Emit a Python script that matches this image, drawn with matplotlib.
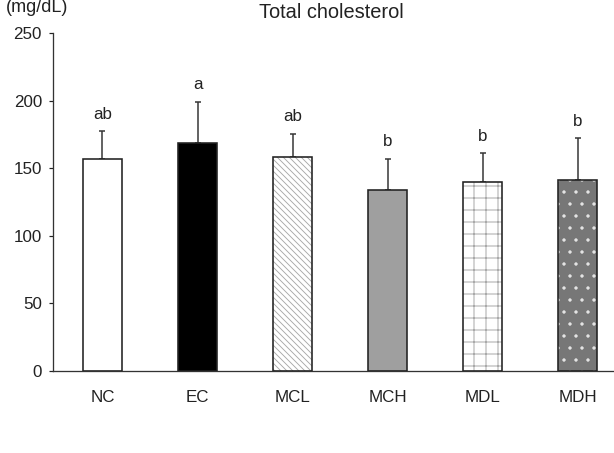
import numpy as np
import matplotlib
matplotlib.use('Agg')
import matplotlib.pyplot as plt

# data
groups = ['NC', 'EC', 'MCL', 'MCH', 'MDL', 'MDH']
means = [156.5, 168.5, 158, 134, 140, 141]
sd = [21, 30.5, 17.5, 23, 21, 31]
letters = ['ab', 'a', 'ab', 'b', 'b', 'b']

# fill styles per bar
faces = ['white', 'black', 'white', '#8e8e8e', 'white', '#777777']
hatches = [None, None, '\\\\\\\\', '||||||', '+', '.']
hatch_cols = ['black', 'black', '#a8a8a8', '#b4b4b4', '#a0a0a0', '#e8e8e8']

plt.rcParams['font.family'] = ['Liberation Sans', 'DejaVu Sans']
plt.rcParams['hatch.linewidth'] = 0.9

# dpi 72 so that points == pixels
fig = plt.figure(figsize=(614 / 72, 453 / 72), dpi=72)
ax = fig.add_axes([53 / 614, 1 - 371 / 453, 561 / 614, 338 / 453])

x = np.arange(len(groups))
w = 0.41

# hatch layer first (edge colour = hatch colour), then the black outline
for i in range(len(groups)):
    ax.bar(x[i], means[i], w, color=faces[i], hatch=hatches[i],
           edgecolor=hatch_cols[i], linewidth=0, zorder=2)
ax.bar(x, means, w, color='none', edgecolor='#222222', linewidth=1.6, zorder=3)

# upper error bars only
ax.errorbar(x, means, yerr=[np.zeros(len(sd)), sd], fmt='none',
            ecolor='#333333', elinewidth=1.5, capsize=3, capthick=1.5, zorder=1)

for i in range(len(groups)):
    ax.annotate(letters[i], (x[i], means[i] + sd[i]), xytext=(0, 17),
                textcoords='offset points', ha='center', va='center',
                fontsize=17, color='#222222')

ax.set_xlim(-0.52, 5.38)
ax.set_ylim(0, 250)
ax.set_yticks(np.arange(0, 251, 50))
ax.set_xticks(x)
ax.set_xticklabels(groups)
ax.tick_params(axis='x', length=0, pad=19, labelsize=17, colors='#222222')
ax.tick_params(axis='y', length=4, width=1.2, pad=7, labelsize=17, colors='#222222')

for s in ['top', 'right']:
    ax.spines[s].set_visible(False)
ax.spines['left'].set_linewidth(1.3)
ax.spines['bottom'].set_linewidth(1.3)
ax.spines['left'].set_color('#333333')
ax.spines['bottom'].set_color('#333333')

fig.text(331 / 614, 1 - 12 / 453, 'Total cholesterol', ha='center', va='center',
         fontsize=20, color='#222222')
fig.text(37 / 614, 1 - 7 / 453, '(mg/dL)', ha='center', va='center',
         fontsize=18, color='#222222')

fig.savefig('out.png', dpi=72)
